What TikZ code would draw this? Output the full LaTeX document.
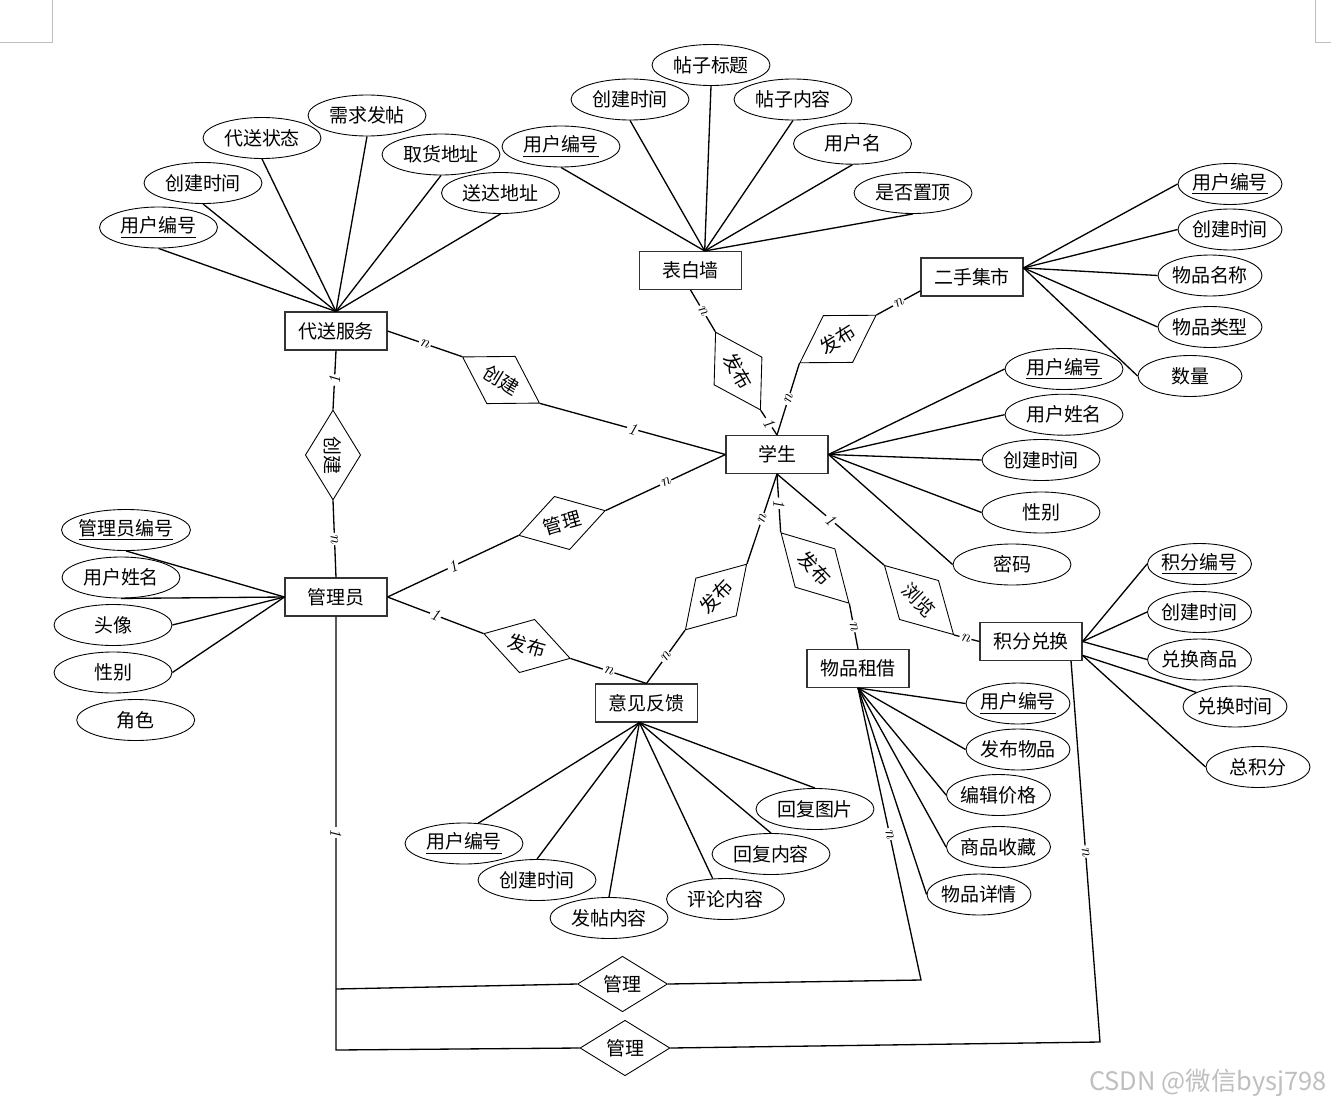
\documentclass[tikz,border=0pt]{standalone}
\usepackage{fontspec}
\newfontfamily\cjk{Noto Sans CJK SC}
\usetikzlibrary{shapes.geometric}
\tikzstyle{ent}=[rectangle, draw=black!80, line width=0.6pt, fill=white, inner sep=0pt, minimum width=2.04cm, minimum height=0.76cm, font=\cjk\fontsize{10.8}{13}\selectfont]
\tikzstyle{attr}=[ellipse, draw, line width=0.5pt, fill=white, inner sep=0pt, inner xsep=-4pt, minimum width=2.36cm, minimum height=0.82cm, font=\cjk\fontsize{10.8}{13}\selectfont]
\tikzstyle{sattr}=[attr, minimum width=2.08cm]
\tikzstyle{rel}=[diamond, draw, line width=0.5pt, fill=white, inner sep=0pt, minimum width=1.8cm, minimum height=0.96cm, font=\cjk\fontsize{10.8}{13}\selectfont]
\tikzstyle{link}=[-, line width=0.75pt]
\tikzstyle{lbl}=[sloped, fill=white, inner sep=0.8pt, font=\fontsize{9.5}{10}\selectfont\itshape]
\tikzstyle{corner}=[-, draw=black!25, line width=0.5pt]
\newcommand{\pk}[1]{\underline{#1}}

\begin{document}
\begin{tikzpicture}[x=0.02cm, y=-0.02cm]
	\useasboundingbox (0,0) rectangle (1331,1105);
	%The page corners
	\draw[corner] (0,42) -- (52,42) -- (52,0);
	\draw[corner] (1315,0) -- (1315,42) -- (1331,42);

	%The entities
	\draw (336,331) node[ent] (ds) {代送服务};
	\draw (690.5,270.5) node[ent] (bbq) {表白墙};
	\draw (972,277) node[ent] (es) {二手集市};
	\draw (777,454.5) node[ent] (xs) {学生};
	\draw (336,597) node[ent] (gly) {管理员};
	\draw (646.5,703) node[ent] (yj) {意见反馈};
	\draw (858,668.5) node[ent] (zj) {物品租借};
	\draw (1031,641.5) node[ent] (jf) {积分兑换};

	%The attributes of 代送服务
	\draw (158.5,227.5) node[attr] (a-ds1) {\pk{用户编号}};
	\draw (203,183) node[attr] (a-ds2) {创建时间};
	\draw (262,138) node[attr] (a-ds3) {代送状态};
	\draw (367,115.5) node[attr] (a-ds4) {需求发帖};
	\draw (441,154.5) node[attr] (a-ds5) {取货地址};
	\draw (500.5,193) node[attr] (a-ds6) {送达地址};
	\draw[link] (ds.north) -- (a-ds1.south);
	\draw[link] (ds.north) -- (a-ds2.south);
	\draw[link] (ds.north) -- (a-ds3.south);
	\draw[link] (ds.north) -- (a-ds4.south);
	\draw[link] (ds.north) -- (a-ds5.south);
	\draw[link] (ds.north) -- (a-ds6.south);

	%The attributes of 表白墙
	\draw (561,146.5) node[attr] (a-bb1) {\pk{用户编号}};
	\draw (630,99.5) node[attr] (a-bb2) {创建时间};
	\draw (711,65) node[attr] (a-bb3) {帖子标题};
	\draw (793,99.5) node[attr] (a-bb4) {帖子内容};
	\draw (852.5,143.7) node[attr] (a-bb5) {用户名};
	\draw (913,193) node[attr] (a-bb6) {是否置顶};
	\draw[link] (bbq.54) -- (a-bb1.south);
	\draw[link] (bbq.54) -- (a-bb2.south);
	\draw[link] (bbq.54) -- (a-bb3.south);
	\draw[link] (bbq.54) -- (a-bb4.south);
	\draw[link] (bbq.54) -- (a-bb5.south);
	\draw[link] (bbq.54) -- (a-bb6.south);

	%The attributes of 二手集市
	\draw (1230,184) node[sattr] (a-es1) {\pk{用户编号}};
	\draw (1230,229.5) node[sattr] (a-es2) {创建时间};
	\draw (1210,275.5) node[sattr] (a-es3) {物品名称};
	\draw (1210,327) node[sattr] (a-es4) {物品类型};
	\draw (1190,376) node[sattr] (a-es5) {数量};
	\draw[link] (es.10) -- (a-es1.west);
	\draw[link] (es.10) -- (a-es2.west);
	\draw[link] (es.10) -- (a-es3.west);
	\draw[link] (es.10) -- (a-es4.west);
	\draw[link] (es.10) -- (a-es5.west);

	%The attributes of 学生
	\draw (1064,369) node[attr] (a-xs1) {\pk{用户编号}};
	\draw (1064,414.7) node[attr] (a-xs2) {用户姓名};
	\draw (1041,460) node[attr] (a-xs3) {创建时间};
	\draw (1041,512.5) node[attr] (a-xs4) {性别};
	\draw (1012,564.5) node[attr] (a-xs5) {密码};
	\draw[link] (xs.east) -- (a-xs1.west);
	\draw[link] (xs.east) -- (a-xs2.west);
	\draw[link] (xs.east) -- (a-xs3.west);
	\draw[link] (xs.east) -- (a-xs4.west);
	\draw[link] (xs.east) -- (a-xs5.west);

	%The attributes of 管理员
	\draw (126,530) node[attr, minimum width=2.58cm] (a-gl1) {\pk{管理员编号}};
	\draw (121,577.5) node[attr] (a-gl2) {用户姓名};
	\draw (113,625) node[attr] (a-gl3) {头像};
	\draw (113,672.5) node[attr] (a-gl4) {性别};
	\draw (135.7,720) node[attr] (a-gl5) {角色};
	\draw[link] (gly.west) -- (a-gl1.south);
	\draw[link] (gly.west) -- (a-gl2.south);
	\draw[link] (gly.west) -- (a-gl3.east);
	\draw[link] (gly.west) -- (a-gl4.east);

	%The attributes of 意见反馈
	\draw (464,843.5) node[attr] (a-yj1) {\pk{用户编号}};
	\draw (537,880) node[attr] (a-yj2) {创建时间};
	\draw (609,918) node[attr] (a-yj3) {发帖内容};
	\draw (725.5,899) node[attr] (a-yj4) {评论内容};
	\draw (771,854) node[attr] (a-yj5) {回复内容};
	\draw (815,809) node[attr] (a-yj6) {回复图片};
	\draw[link] (yj.-110) -- (a-yj1.55);
	\draw[link] (yj.-110) -- (a-yj2.north);
	\draw[link] (yj.-110) -- (a-yj3.north);
	\draw[link] (yj.-110) -- (a-yj4.122);
	\draw[link] (yj.-110) -- (a-yj5.north);
	\draw[link] (yj.-110) -- (a-yj6.north);

	%The attributes of 物品租借
	\draw (1018,703.5) node[sattr] (a-zj1) {\pk{用户编号}};
	\draw (1018,749.5) node[sattr] (a-zj2) {发布物品};
	\draw (998.5,795) node[sattr] (a-zj3) {编辑价格};
	\draw (998.5,847) node[sattr] (a-zj4) {商品收藏};
	\draw (979,894.5) node[sattr] (a-zj5) {物品详情};
	\draw[link] (zj.south) -- (a-zj1.west);
	\draw[link] (zj.south) -- (a-zj2.west);
	\draw[link] (zj.south) -- (a-zj3.west);
	\draw[link] (zj.south) -- (a-zj4.west);
	\draw[link] (zj.south) -- (a-zj5.west);

	%The attributes of 积分兑换
	\draw (1199.5,564) node[sattr] (a-jf1) {\pk{积分编号}};
	\draw (1199.5,612) node[sattr] (a-jf2) {创建时间};
	\draw (1199.5,659.5) node[sattr] (a-jf3) {兑换商品};
	\draw (1235,706.5) node[sattr] (a-jf4) {兑换时间};
	\draw (1258,767) node[sattr] (a-jf5) {总积分};
	\draw[link] (jf.east) -- (a-jf1.west);
	\draw[link] (jf.east) -- (a-jf2.west);
	\draw[link] (jf.east) -- (a-jf3.west);
	\draw[link] (jf.-15) -- (a-jf4.160);
	\draw[link] (jf.-15) -- (a-jf5.west);

	%The relationships
	\draw (501,380) node[rel, rotate=-31] (r1) {创建};
	\draw (333,455) node[rel, rotate=-90] (r2) {创建};
	\draw (562,523) node[rel, rotate=16] (r3) {管理};
	\draw (527,646) node[rel, rotate=-16] (r4) {发布};
	\draw (738,371) node[rel, rotate=-60] (r5) {发布};
	\draw (838,339) node[rel, rotate=32] (r6) {发布};
	\draw (716,597) node[rel, rotate=47] (r7) {发布};
	\draw (815,568) node[rel, rotate=-46, minimum width=1.96cm] (r8) {发布};
	\draw (919,600) node[rel, rotate=-45, minimum width=1.96cm] (r9) {浏览};
	\draw (622.5,984) node[rel] (r10) {管理};
	\draw (625,1048) node[rel] (r11) {管理};

	%The relationship lines
	\draw[link] (ds.east) -- node[lbl] {n} (r1.west);
	\draw[link] (r1.east) -- node[lbl] {1} (xs.west);
	\draw[link] (ds.south) -- node[lbl] {1} (r2.west);
	\draw[link] (r2.east) -- node[lbl] {n} (gly.north);
	\draw[link] (gly.east) -- node[lbl] {1} (r3.west);
	\draw[link] (r3.east) -- node[lbl] {n} (xs.west);
	\draw[link] (gly.east) -- node[lbl] {1} (r4.west);
	\draw[link] (r4.east) -- node[lbl] {n} (yj.north);
	\draw[link] (bbq.south) -- node[lbl] {n} (r5.west);
	\draw[link] (r5.east) -- node[lbl] {1} (xs.north);
	\draw[link] (xs.north) -- node[lbl] {n} (r6.west);
	\draw[link] (r6.east) -- node[lbl] {n} (es.-165);
	\draw[link] (xs.south) -- node[lbl] {n} (r7.east);
	\draw[link] (r7.west) -- node[lbl] {n} (yj.north);
	\draw[link] (xs.south) -- node[lbl] {1} (r8.west);
	\draw[link] (r8.east) -- node[lbl] {n} (zj.north);
	\draw[link] (xs.south) -- node[lbl] {1} (r9.west);
	\draw[link] (r9.east) -- node[lbl, pos=0.45] {n} (jf.west);

	%The lines along the bottom
	\coordinate (j1) at (336,989);
	\coordinate (j2) at (336,1050);
	\coordinate (k1) at (921,980);
	\coordinate (k2) at (1100,1042);
	\draw[link] (gly.south) -- node[lbl, pos=0.58] {1} (j1) -- (j2) -- (r11.west);
	\draw[link] (j1) -- (r10.west);
	\draw[link] (r10.east) -- (k1) -- node[lbl] {n} (zj.south);
	\draw[link] (r11.east) -- (k2) -- node[lbl] {n} (jf.-26);

	%The watermark
	\draw (1208,1083) node[font=\cjk\fontsize{14.5}{16}\selectfont, text=black!25] (wm) {CSDN @微信bysj798};
\end{tikzpicture}
\end{document}
